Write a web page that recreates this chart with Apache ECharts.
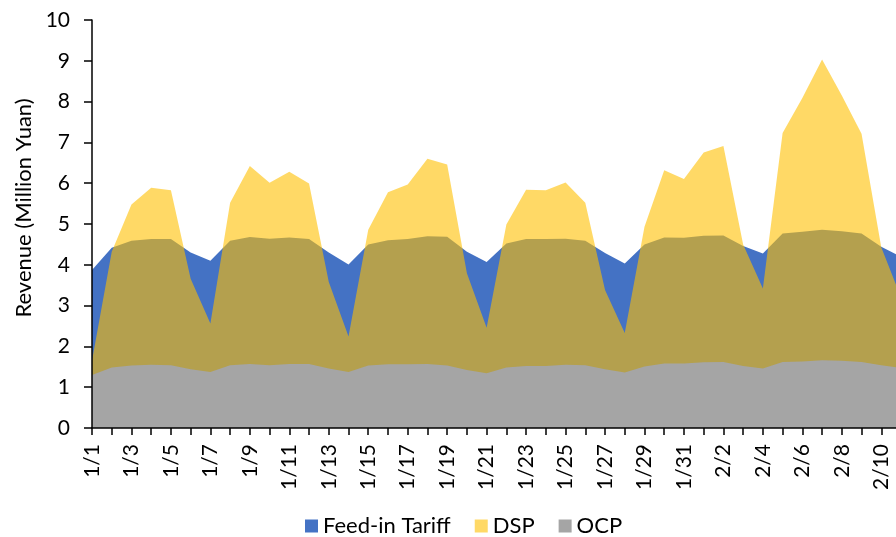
<!DOCTYPE html>
<html>
<head>
<meta charset="utf-8">
<script src="https://cdn.jsdelivr.net/npm/echarts@6/dist/echarts.min.js"></script>
<style>
  html, body { margin: 0; padding: 0; background: #fff; }
  #chart { width: 896px; height: 537px; }
</style>
</head>
<body>
<div id="chart"></div>
<script>
// 1/1 - 2/11, the last day runs past the right edge of the picture
const days = [
  '1/1', '1/2', '1/3', '1/4', '1/5', '1/6', '1/7', '1/8', '1/9', '1/10',
  '1/11', '1/12', '1/13', '1/14', '1/15', '1/16', '1/17', '1/18', '1/19', '1/20',
  '1/21', '1/22', '1/23', '1/24', '1/25', '1/26', '1/27', '1/28', '1/29', '1/30',
  '1/31', '2/1', '2/2', '2/3', '2/4', '2/5', '2/6', '2/7', '2/8', '2/9',
  '2/10', '2/11'
]

const feedInTariff = [
  3.87, 4.42, 4.59, 4.63, 4.63, 4.30, 4.10, 4.59, 4.68, 4.64,
  4.67, 4.63, 4.30, 4.01, 4.50, 4.60, 4.63, 4.70, 4.69, 4.32,
  4.07, 4.52, 4.63, 4.63, 4.64, 4.59, 4.29, 4.03, 4.50, 4.67,
  4.66, 4.71, 4.72, 4.46, 4.28, 4.77, 4.81, 4.86, 4.82, 4.77,
  4.44, 4.20
]

const dsp = [
  1.65, 4.32, 5.48, 5.89, 5.83, 3.66, 2.56, 5.52, 6.42, 6.01,
  6.28, 5.99, 3.58, 2.24, 4.86, 5.78, 5.97, 6.60, 6.46, 3.79,
  2.46, 4.99, 5.84, 5.83, 6.02, 5.52, 3.38, 2.33, 4.93, 6.32,
  6.10, 6.75, 6.91, 4.50, 3.42, 7.23, 8.09, 9.03, 8.15, 7.21,
  4.43, 3.20
]

const ocp = [
  1.30, 1.48, 1.53, 1.55, 1.54, 1.44, 1.37, 1.54, 1.57, 1.54,
  1.57, 1.57, 1.46, 1.37, 1.53, 1.56, 1.56, 1.57, 1.53, 1.42,
  1.34, 1.48, 1.52, 1.52, 1.55, 1.54, 1.44, 1.36, 1.51, 1.58,
  1.58, 1.61, 1.62, 1.52, 1.46, 1.62, 1.63, 1.66, 1.65, 1.62,
  1.54, 1.47
]

const yTicks = [0, 10, 1] // min, max, interval

const fontFamily = 'Lato, "Open Sans", sans-serif'

const chart = echarts.init(document.getElementById('chart'), null, { renderer: 'canvas' })

const areaSeries = (name, data, color, fill) => ({
  name: name,
  type: 'line',
  data: data,
  symbol: 'none',
  showSymbol: false,
  itemStyle: { color: color },
  lineStyle: { width: 0 },
  areaStyle: { color: fill, opacity: 1 },
  emphasis: { disabled: true },
  animation: false
})

const option = {
  backgroundColor: '#fff',
  textStyle: { fontFamily: fontFamily },
  grid: {
    left: 92,
    top: 20,
    width: 809,
    bottom: 109,
    outerBoundsMode: 'none'
  },
  legend: {
    left: 305,
    top: 515,
    icon: 'rect',
    itemWidth: 13,
    itemHeight: 13,
    itemGap: 24,
    padding: 0,
    textStyle: { fontFamily: fontFamily, fontSize: 22, color: '#000' },
    data: [
      { name: 'Feed-in Tariff', itemStyle: { color: '#4472C4', borderWidth: 0 } },
      { name: 'DSP', itemStyle: { color: '#FFD966', borderWidth: 0 } },
      { name: 'OCP', itemStyle: { color: '#A5A5A5', borderWidth: 0 } }
    ]
  },
  xAxis: {
    type: 'category',
    data: days,
    boundaryGap: false,
    z: 10,
    axisLine: { lineStyle: { color: '#000', width: 1.5 } },
    axisTick: { show: true, interval: 0, length: 7, lineStyle: { color: '#000', width: 1.5 } },
    axisLabel: {
      interval: 1,
      rotate: 90,
      margin: 16,
      fontSize: 21,
      color: '#000',
      fontFamily: fontFamily
    },
    splitLine: { show: false }
  },
  yAxis: {
    type: 'value',
    min: yTicks[0],
    max: yTicks[1],
    interval: yTicks[2],
    name: 'Revenue (Million Yuan)',
    nameLocation: 'middle',
    nameGap: 57,
    nameTextStyle: { fontSize: 22, color: '#000', fontFamily: fontFamily, padding: [0, 0, 0, 32] },
    z: 10,
    axisLine: { show: true, lineStyle: { color: '#000', width: 1.5 } },
    axisTick: { show: true, length: 8, lineStyle: { color: '#000', width: 1.5 } },
    axisLabel: { margin: 22, fontSize: 21, color: '#000', fontFamily: fontFamily },
    splitLine: { show: false }
  },
  series: [
    areaSeries('Feed-in Tariff', feedInTariff, '#4472C4', '#4472C4'),
    // gold at 60% so the overlap with the blue area turns olive
    areaSeries('DSP', dsp, '#FFD966', 'rgba(255, 192, 0, 0.6)'),
    areaSeries('OCP', ocp, '#A5A5A5', '#A5A5A5')
  ]
}

chart.setOption(option)
</script>
</body>
</html>
